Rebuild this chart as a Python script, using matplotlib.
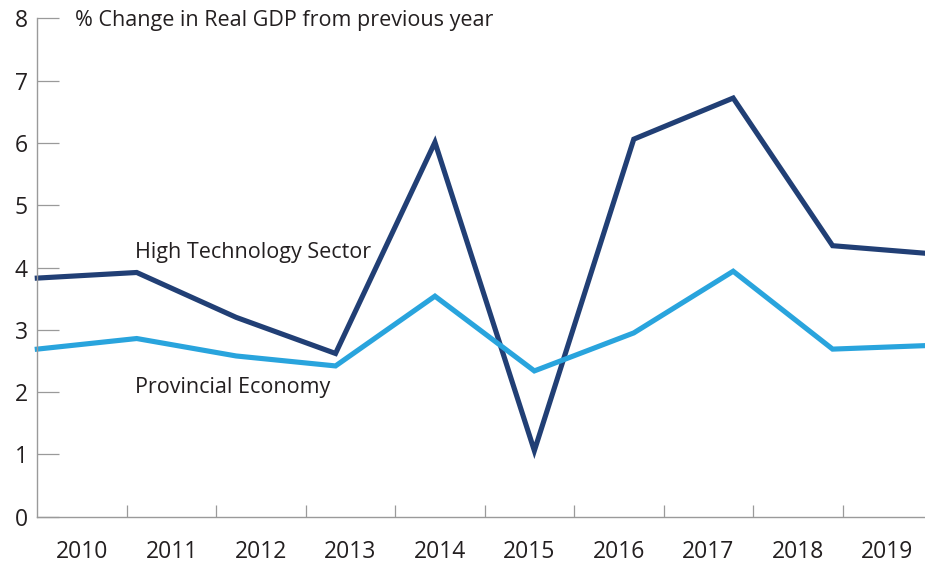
import numpy as np
import matplotlib
matplotlib.use("Agg")
import matplotlib.pyplot as plt

years = ["2010", "2011", "2012", "2013", "2014", "2015", "2016", "2017", "2018", "2019"]
high_tech = [3.83, 3.92, 3.20, 2.62, 6.01, 1.06, 6.06, 6.72, 4.35, 4.22]
provincial = [2.69, 2.86, 2.58, 2.42, 3.54, 2.34, 2.95, 3.94, 2.69, 2.75]

DARK = "#213f75"
LIGHT = "#29a4dd"
AXIS = "#9a9a9a"
TEXT = "#231f20"
TICK_FS = 16.5
LABEL_FS = 15.5

plt.rcParams["font.family"] = ["Open Sans", "DejaVu Sans"]

fig = plt.figure(figsize=(9.25, 5.63), dpi=100)
ax = fig.add_axes([37.3 / 925, 1 - 516.7 / 563, (932 - 37.3) / 925, (516.7 - 18.3) / 563])

n = len(years)
# points run from the left spine to the far end of the last year band
xs = np.linspace(0, n, n)
ax.plot(xs, high_tech, color=DARK, lw=3.7, solid_joinstyle="miter", clip_on=False)
ax.plot(xs, provincial, color=LIGHT, lw=3.7, solid_joinstyle="miter", clip_on=False)

ax.set_xlim(0, n)
ax.set_ylim(0, 8)

for side in ("top", "right"):
    ax.spines[side].set_visible(False)
for side in ("left", "bottom"):
    ax.spines[side].set_color(AXIS)
    ax.spines[side].set_linewidth(1.0)

ax.set_yticks(range(0, 9))
ax.tick_params(axis="y", direction="in", length=16, width=0.9, color=AXIS,
               labelsize=TICK_FS, labelcolor=TEXT, pad=7)

# year bands: boundaries get tick marks, centres get labels
ax.set_xticks(np.arange(1, n))
ax.set_xticklabels([])
ax.set_xticks(np.arange(n) + 0.5, minor=True)
ax.set_xticklabels(years, minor=True)
ax.tick_params(axis="x", which="major", direction="in", length=8.5, width=0.9, color=AXIS)
ax.tick_params(axis="x", which="minor", length=0, labelsize=TICK_FS, labelcolor=TEXT, pad=17)

ax.text(0.42, 7.87, "% Change in Real GDP from previous year", fontsize=LABEL_FS,
        color=TEXT, va="baseline", ha="left")
ax.text(1.09, 4.15, "High Technology Sector", fontsize=LABEL_FS, color=TEXT,
        va="baseline", ha="left")
ax.text(1.09, 1.99, "Provincial Economy", fontsize=LABEL_FS, color=TEXT,
        va="baseline", ha="left")

fig.savefig("out.png", dpi=100)
